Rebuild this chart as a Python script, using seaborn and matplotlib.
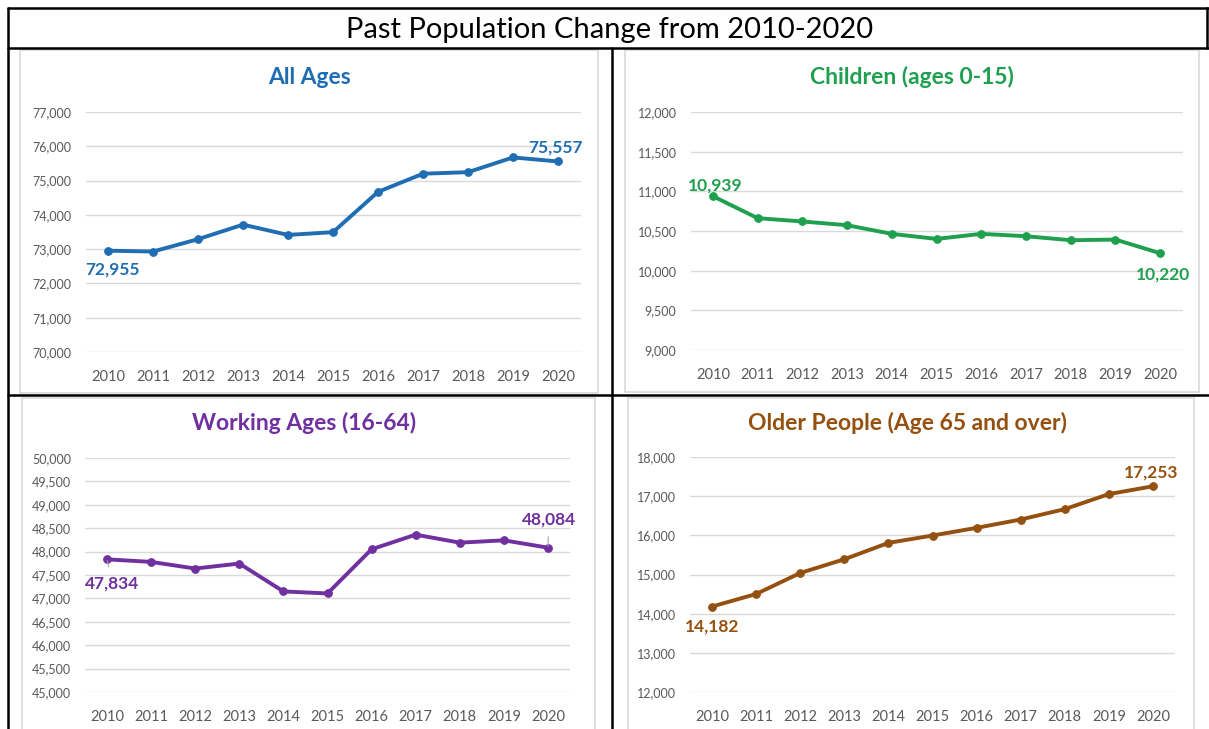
import numpy as np
import pandas as pd
import matplotlib
matplotlib.use("Agg")
import matplotlib.pyplot as plt
from matplotlib.ticker import FuncFormatter
from matplotlib.patches import Rectangle
from matplotlib.lines import Line2D
import seaborn as sns

# ── Data ─────────────────────────────────────────────────────────────────────
years = [2010, 2011, 2012, 2013, 2014, 2015, 2016, 2017, 2018, 2019, 2020]

all_ages = [72955, 72930, 73290, 73715, 73415, 73495, 74670, 75200, 75245, 75675, 75557]
children = [10939, 10662, 10620, 10573, 10464, 10400, 10464, 10434, 10384, 10392, 10220]
working = [47834, 47780, 47638, 47745, 47149, 47106, 48050, 48362, 48191, 48241, 48084]
older = [14182, 14502, 15039, 15389, 15807, 15995, 16191, 16404, 16669, 17053, 17253]

panel_titles = ["All Ages", "Children (ages 0-15)", "Working Ages (16-64)",
                "Older People (Age 65 and over)"]
suptitle = "Past Population Change from 2010-2020"

sns.set_theme(style="white")
plt.rcParams["font.family"] = ["Lato", "DejaVu Sans"]

W, H = 1209, 729
fig = plt.figure(figsize=(W / 100, H / 100), dpi=100)


def fx(px):
    return px / W


def fy(py):
    return 1 - py / H


# ── Panel setup: (series, colour, ylim, step, axes box px, title pos, label offsets)
panels = [
    dict(vals=all_ages, color="#1F6DB2", ylim=(70000, 77000), step=1000,
         box=(85.5, 112, 580.5, 352), title=(309, 77),
         off_first=(3.6, -13.7), off_last=(-2, 10), leader=False),
    dict(vals=children, color="#1FA04F", ylim=(9000, 12000), step=500,
         box=(690.5, 112, 1182.5, 350), title=(912, 77),
         off_first=(1.4, 8), off_last=(2, -15), leader=False),
    dict(vals=working, color="#7030A0", ylim=(45000, 50000), step=500,
         box=(85, 458, 570, 692), title=(304, 423),
         off_first=(3.6, -17.3), off_last=(0.7, 20), leader=True),
    dict(vals=older, color="#94500F", ylim=(12000, 18000), step=1000,
         box=(690, 457, 1175, 692), title=(908, 423),
         off_first=(0, -14.4), off_last=(-1.4, 10), leader=False),
]

# ── Light grey chart frames (Excel chart areas) ──────────────────────────────
for (x0, y0, x1, y1) in [(20, 50, 598, 393), (625, 50, 1199, 392),
                         (22, 398, 595, 732), (628, 398, 1194, 732)]:
    fig.patches.append(Rectangle((fx(x0), fy(y1)), fx(x1) - fx(x0), fy(y0) - fy(y1),
                                 transform=fig.transFigure, fill=False,
                                 edgecolor="#D9D9D9", linewidth=1.2, zorder=0))

for p, title in zip(panels, panel_titles):
    x0, y0, x1, y1 = p["box"]
    ax = fig.add_axes([fx(x0), fy(y1), fx(x1) - fx(x0), fy(y0) - fy(y1)])
    ax.set_facecolor("none")
    df = pd.DataFrame({"year": years, "value": p["vals"]})
    sns.lineplot(data=df, x="year", y="value", ax=ax, color=p["color"],
                 linewidth=2.8, marker="o", markersize=5.5,
                 markeredgecolor=p["color"], zorder=3)

    ax.set_xlim(2009.5, 2020.5)
    ax.set_ylim(*p["ylim"])
    ax.set_xticks(years)
    ax.set_xticklabels([str(y) for y in years])
    ax.set_yticks(np.arange(p["ylim"][0], p["ylim"][1] + 1, p["step"]))
    ax.yaxis.set_major_formatter(FuncFormatter(lambda v, _: f"{int(v):,}"))
    ax.tick_params(axis="x", labelsize=10.5, colors="#595959", length=0, pad=13)
    ax.tick_params(axis="y", labelsize=9, colors="#595959", length=0, pad=10)
    ax.set_xlabel("")
    ax.set_ylabel("")
    ax.grid(axis="y", color="#D9D9D9", linewidth=1)
    ax.grid(axis="x", visible=False)
    for s in ax.spines.values():
        s.set_visible(False)

    # data labels on first and last point
    arrow = dict(arrowstyle="-", color="#A6A6A6", lw=0.8, shrinkA=4, shrinkB=1) if p["leader"] else None
    for idx, off in [(0, p["off_first"]), (-1, p["off_last"])]:
        ax.annotate(f"{p['vals'][idx]:,}", xy=(years[idx], p["vals"][idx]),
                    xytext=off, textcoords="offset points", ha="center", va="center",
                    fontsize=12.5, fontweight="bold", color=p["color"],
                    arrowprops=arrow, zorder=4)

    tx, ty = p["title"]
    fig.text(fx(tx), fy(ty), title, ha="center", va="center", fontsize=16.5,
             fontweight="bold", color=p["color"])

# ── Table grid (black lines) ─────────────────────────────────────────────────
for (xa, ya, xb, yb) in [(8, 8, 1209, 8), (8, 48, 1209, 48), (8, 395, 1209, 395),
                         (8, 8, 8, 729), (612, 48, 612, 729), (1207, 8, 1207, 48)]:
    fig.add_artist(Line2D([fx(xa), fx(xb)], [fy(ya), fy(yb)], color="black",
                          linewidth=1.8, transform=fig.transFigure))

fig.text(fx(610), fy(30), suptitle, ha="center", va="center", fontsize=21,
         color="black")

fig.savefig("out.png", dpi=100)
